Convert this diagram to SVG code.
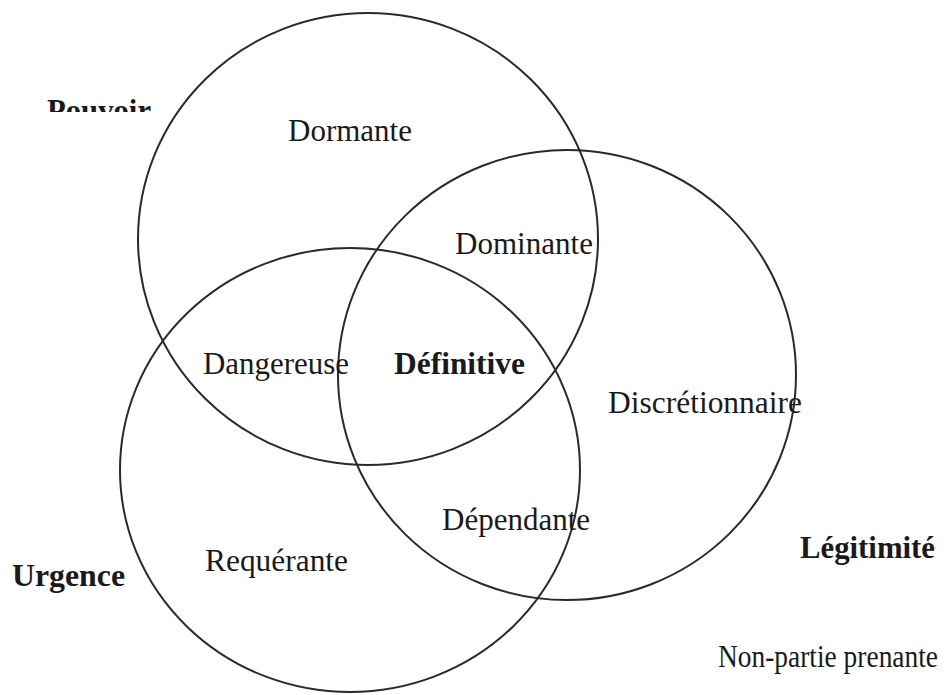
<svg xmlns="http://www.w3.org/2000/svg" width="948" height="695" viewBox="0 0 948 695">
<defs>
<style>
.c{fill:none;stroke:#2a2a2a;stroke-width:2}
.t{font-family:"Liberation Serif","Times New Roman",serif;font-size:32px;fill:#1a1a1a}
.b{font-weight:bold}
</style>
<clipPath id="pclip"><rect x="0" y="0" width="300" height="112"/></clipPath>
</defs>
<rect width="948" height="695" fill="#ffffff"/>
<g id="connectors">
<ellipse id="circle-pouvoir" class="c" cx="368" cy="239" rx="230" ry="226"/>
<ellipse id="circle-legitimite" class="c" cx="567" cy="375" rx="229" ry="225"/>
<ellipse id="circle-urgence" class="c" cx="350" cy="470" rx="230" ry="222"/>
</g>
<g id="label-pouvoir" clip-path="url(#pclip)"><text class="t b" x="47" y="121" textLength="104" lengthAdjust="spacingAndGlyphs">Pouvoir</text></g>
<g id="dormante"><text class="t" x="288" y="141" textLength="124" lengthAdjust="spacingAndGlyphs">Dormante</text></g>
<g id="dominante"><text class="t" x="455" y="254" textLength="138" lengthAdjust="spacingAndGlyphs">Dominante</text></g>
<g id="dangereuse"><text class="t" x="203" y="374" textLength="146" lengthAdjust="spacingAndGlyphs">Dangereuse</text></g>
<g id="definitive"><text class="t b" x="394" y="374" textLength="131" lengthAdjust="spacingAndGlyphs">Définitive</text></g>
<g id="discretionnaire"><text class="t" x="608" y="413" textLength="194" lengthAdjust="spacingAndGlyphs">Discrétionnaire</text></g>
<g id="dependante"><text class="t" x="442" y="530" textLength="148" lengthAdjust="spacingAndGlyphs">Dépendante</text></g>
<g id="requerante"><text class="t" x="205" y="571" textLength="143" lengthAdjust="spacingAndGlyphs">Requérante</text></g>
<g id="label-urgence"><text class="t b" x="12" y="586" textLength="113" lengthAdjust="spacingAndGlyphs">Urgence</text></g>
<g id="label-legitimite"><text class="t b" x="800" y="558" textLength="135" lengthAdjust="spacingAndGlyphs">Légitimité</text></g>
<g id="non-partie"><text class="t" x="718" y="667" textLength="220" lengthAdjust="spacingAndGlyphs">Non-partie prenante</text></g>
</svg>
